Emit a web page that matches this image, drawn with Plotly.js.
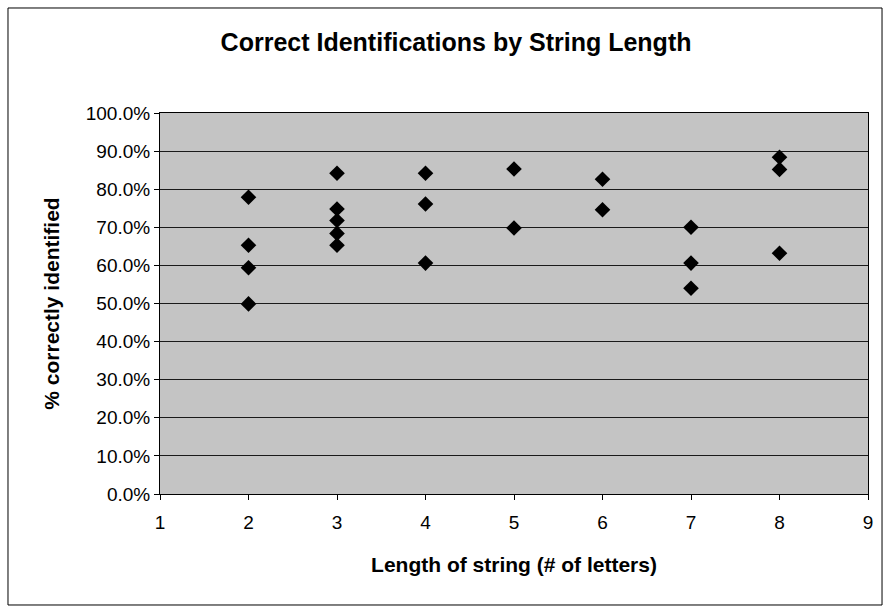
<!DOCTYPE html>
<html>
<head>
<meta charset="utf-8">
<script src="https://cdn.plot.ly/plotly-3.0.1.min.js"></script>
<style>html,body{margin:0;padding:0;background:#fff;}#chart{width:889px;height:611px;}</style>
</head>
<body>
<div id="chart"></div>
<script>
// String lengths (# of letters)
const stringLength = [2, 2, 2, 2, 3, 3, 3, 3, 3, 4, 4, 4, 5, 5, 6, 6, 7, 7, 7, 8, 8, 8];
// % correctly identified
const pctCorrect = [77.9, 65.3, 59.4, 49.9, 84.2, 74.8, 71.8, 68.4, 65.3, 84.2, 76.1, 60.6, 85.3, 69.8, 82.6, 74.6, 70.0, 60.6, 54.0, 88.4, 85.2, 63.2];

const xTicks = [1, 2, 3, 4, 5, 6, 7, 8, 9];
const yTicks = [0, 10, 20, 30, 40, 50, 60, 70, 80, 90, 100];

const font = 'Liberation Sans, Arial, sans-serif';

const trace = {
  type: 'scatter',
  mode: 'markers',
  x: stringLength,
  y: pctCorrect,
  marker: {symbol: 'diamond', size: 12, color: '#000000'},
  showlegend: false,
  hoverinfo: 'x+y'
};

const layout = {
  width: 889,
  height: 611,
  margin: {l: 160, r: 21, t: 113, b: 117},
  paper_bgcolor: '#ffffff',
  plot_bgcolor: '#c4c4c4',
  font: {family: font, color: '#000'},
  title: {
    text: '<b>Correct Identifications by String Length</b>',
    font: {family: font, size: 25, color: '#000'},
    x: 0.513, xref: 'container', xanchor: 'center',
    y: 0.931, yref: 'container', yanchor: 'middle'
  },
  xaxis: {
    range: [1, 9],
    tickmode: 'array',
    tickvals: xTicks,
    ticktext: xTicks.map(String),
    ticks: 'outside', ticklen: 5, tickcolor: '#000',
    ticklabelstandoff: 6,
    showgrid: false, zeroline: false,
    showline: true, linecolor: '#000', linewidth: 1, mirror: true,
    tickfont: {family: font, size: 19, color: '#000'},
    title: {text: '<b>Length of string (# of letters)</b>', font: {family: font, size: 21, color: '#000'}, standoff: 25}
  },
  yaxis: {
    range: [0, 100],
    tickmode: 'array',
    tickvals: yTicks,
    ticktext: yTicks.map(v => v.toFixed(1) + '%'),
    ticks: 'outside', ticklen: 5, tickcolor: '#000',
    showgrid: true, gridcolor: '#1a1a1a', gridwidth: 1,
    zeroline: false,
    showline: true, linecolor: '#000', linewidth: 1, mirror: true,
    tickfont: {family: font, size: 19, color: '#000'},
    title: {text: '<b>% correctly identified</b>', font: {family: font, size: 21, color: '#000'}, standoff: 20}
  },
  shapes: [{
    type: 'rect', xref: 'paper', yref: 'paper',
    x0: -0.2147, x1: 1.0198, y0: -0.2913, y1: 1.2756,
    line: {color: '#000', width: 1}, fillcolor: 'rgba(0,0,0,0)', layer: 'below'
  }]
};

Plotly.newPlot('chart', [trace], layout, {staticPlot: true, displayModeBar: false});
</script>
</body>
</html>
